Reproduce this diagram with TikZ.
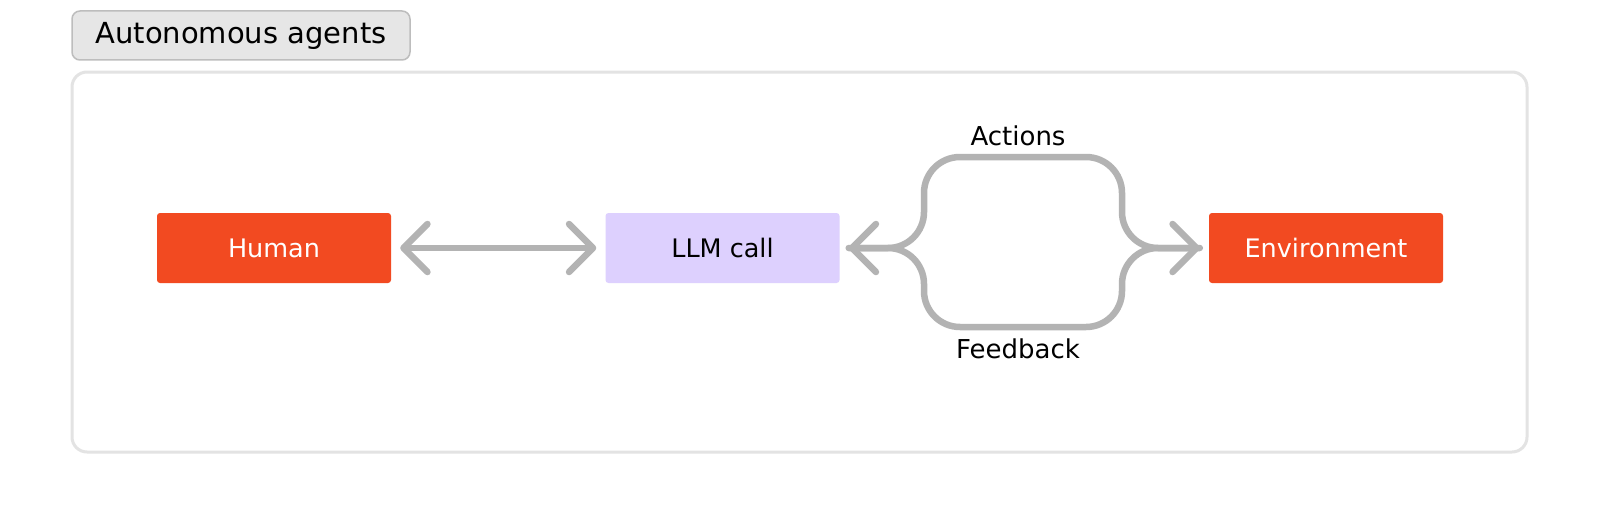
\documentclass[tikz,border=0pt]{standalone}
\usepackage{fontspec}
\setmainfont{DejaVu Sans}
\usetikzlibrary{arrows.meta}
\definecolor{orng}{HTML}{F24A21}
\definecolor{lav}{HTML}{DDD0FE}
\definecolor{conngrey}{HTML}{B3B3B3}
\definecolor{framegrey}{HTML}{E3E3E3}
\definecolor{titlefill}{HTML}{E6E6E6}
\definecolor{titledraw}{HTML}{BDBDBD}
\tikzset{
  box/.style={minimum width=234pt, minimum height=70pt, rounded corners=3pt, inner sep=0pt,
    font=\fontsize{25.5}{30}\selectfont},
  redbox/.style={box, fill=orng, text=white},
  lavbox/.style={box, fill=lav, text=black},
  conn/.style={draw=conngrey, line width=6.5pt, line cap=round, line join=round,
    arrows={Straight Barb[length=24pt,width=48pt,line cap=round,line join=round]-Straight Barb[length=24pt,width=48pt,line cap=round,line join=round]},
    shorten <=9pt, shorten >=9pt},
  lbl/.style={font=\fontsize{26}{30}\selectfont, inner sep=0pt}
}
\begin{document}
\begin{tikzpicture}[x=1pt,y=-1pt]
\useasboundingbox (0,0) rectangle (1600,527);
\fill[white] (0,0) rectangle (1600,527);
% title tab
\node[draw=titledraw, fill=titlefill, line width=1.5pt, rounded corners=8pt,
  minimum width=338pt, minimum height=49pt, inner sep=0pt,
  font=\fontsize{29}{34}\selectfont] (title) at (241,35.5) {Autonomous agents};
% frame
\draw[framegrey, line width=3pt, rounded corners=15pt] (72,72) rectangle (1527,452);
% nodes
\node[redbox] (human) at (274,248) {Human};
\node[lavbox] (llm) at (722.5,248) {LLM call};
\node[redbox] (env) at (1326,248) {Environment};
% connectors
\draw[conn] (human.east) -- (llm.west);
\draw[conn, rounded corners=36pt] (llm.east) -- (924,248) -- (924,157) -- (1122,157) -- (1122,248) -- (env.west);
\draw[conn, arrows=-, rounded corners=36pt] (llm.east) -- (924,248) -- (924,327) -- (1122,327) -- (1122,248) -- (env.west);
% labels
\node[lbl] (actions) at (1018,136) {Actions};
\node[lbl] (feedback) at (1018,349) {Feedback};
\end{tikzpicture}
\end{document}
